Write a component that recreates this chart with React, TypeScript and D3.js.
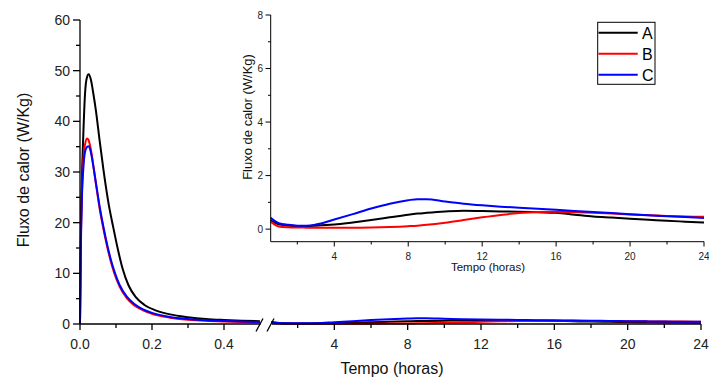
import React from "react";
import * as d3 from "d3";

// ---- Data ----
const seriesNames = ["A", "B", "C"];
const seriesColors = ["#000000", "#ff0000", "#0000ff"];

// early period (hours 0 - 0.5)
const earlyHoursA = [0, 0.001, 0.002, 0.005, 0.009, 0.014, 0.019, 0.024, 0.03, 0.037, 0.044, 0.054, 0.065, 0.08, 0.092, 0.105, 0.118, 0.135, 0.155, 0.18, 0.21, 0.25, 0.3, 0.35, 0.4, 0.45, 0.5];
const earlyA = [0, 8, 16, 28, 37, 45.5, 48.6, 49.3, 48.3, 45.5, 42.2, 36.5, 30.5, 23.5, 19.2, 14.8, 11.0, 7.6, 5.3, 3.7, 2.7, 1.9, 1.35, 1.0, 0.8, 0.65, 0.55];
const earlyHoursBC = [0, 0.001, 0.002, 0.005, 0.01, 0.015, 0.02, 0.023, 0.03, 0.035, 0.045, 0.055, 0.065, 0.075, 0.085, 0.095, 0.11, 0.13, 0.15, 0.175, 0.2, 0.25, 0.3, 0.35, 0.4, 0.45, 0.5];
const earlyB = [0, 7, 14, 25, 33, 35.8, 36.6, 36.4, 34.5, 32.3, 27.3, 22.6, 18.8, 15.4, 12.5, 10.1, 7.4, 5.1, 3.7, 2.7, 2.0, 1.25, 0.85, 0.62, 0.48, 0.38, 0.32];
const earlyC = [0, 6, 13, 24, 31.5, 34.3, 35.0, 35.1, 34.0, 32.0, 27.5, 23.0, 19.2, 15.8, 12.9, 10.5, 7.7, 5.4, 4.0, 2.9, 2.2, 1.4, 1.0, 0.75, 0.6, 0.48, 0.4];

// later period (hours)
const lateHours = [0.56, 1, 1.5, 2, 2.5, 3, 4, 5, 6, 7, 8, 8.5, 9, 10, 11, 12, 13, 14, 15, 16, 17, 18, 19, 20, 21, 22, 23, 24];
const lateA = [0.33, 0.18, 0.13, 0.12, 0.12, 0.13, 0.17, 0.25, 0.34, 0.44, 0.54, 0.58, 0.61, 0.66, 0.69, 0.68, 0.66, 0.65, 0.63, 0.61, 0.54, 0.47, 0.43, 0.39, 0.35, 0.31, 0.28, 0.25];
const lateB = [0.28, 0.1, 0.07, 0.06, 0.055, 0.05, 0.05, 0.05, 0.06, 0.08, 0.11, 0.13, 0.16, 0.24, 0.34, 0.44, 0.53, 0.6, 0.64, 0.65, 0.63, 0.61, 0.58, 0.55, 0.52, 0.49, 0.47, 0.46];
const lateC = [0.42, 0.22, 0.16, 0.13, 0.13, 0.17, 0.36, 0.56, 0.77, 0.95, 1.08, 1.12, 1.12, 1.03, 0.95, 0.89, 0.84, 0.8, 0.76, 0.72, 0.68, 0.64, 0.6, 0.56, 0.52, 0.48, 0.45, 0.42];

const mainYTicks = [0, 10, 20, 30, 40, 50, 60];
const mainYMinor = [5, 15, 25, 35, 45, 55];
const earlyXTicks = [0, 0.2, 0.4];
const earlyXMinor = [0.1, 0.3];
const lateXTicks = [4, 8, 12, 16, 20, 24];
const lateXMinor = [2, 6, 10, 14, 18, 22];
const insetYTicks = [0, 2, 4, 6, 8];
const insetYMinor = [1, 3, 5, 7];

const yTitle = "Fluxo de calor (W/Kg)";
const xTitle = "Tempo (horas)";

const FONT = "'Liberation Sans', Arial, sans-serif";

export default function App() {
  const W = 709, H = 381;
  const y = d3.scaleLinear().domain([0, 60]).range([324, 20]);
  const x1 = d3.scaleLinear().domain([0, 0.5]).range([80, 260]);
  const x2 = d3.scaleLinear().domain([0.6, 24]).range([272, 701]);
  const iy = d3.scaleLinear().domain([-0.47, 8]).range([241.7, 15]);
  const ix = d3.scaleLinear().domain([0.56, 24]).range([270.7, 704]);

  const earlySeries = [
    { h: earlyHoursA, v: earlyA },
    { h: earlyHoursBC, v: earlyB },
    { h: earlyHoursBC, v: earlyC },
  ];
  const lateSeries = [lateA, lateB, lateC];

  const lineGen = (xs: d3.ScaleLinear<number, number>, ys: d3.ScaleLinear<number, number>) =>
    d3.line<[number, number]>().x((d) => xs(d[0])).y((d) => ys(d[1])).curve(d3.curveMonotoneX);

  const order = [0, 1, 2];
  const x0 = 80, yBase = 324;

  return (
    <svg width={W} height={H} style={{ position: "absolute", left: 0, top: 0, background: "#fff" }} fontFamily={FONT}>
      <rect width={W} height={H} fill="#fff" />
      <defs>
        <clipPath id="c1"><rect x={79} y={0} width={182} height={330} /></clipPath>
        <clipPath id="c2"><rect x={271} y={0} width={432} height={330} /></clipPath>
      </defs>

      {/* main curves */}
      <g clipPath="url(#c1)">
        {order.map((i) => (
          <path key={"e" + i}
            d={lineGen(x1, y)(earlySeries[i].h.map((h, k) => [h, earlySeries[i].v[k]] as [number, number])) || ""}
            fill="none" stroke={seriesColors[i]} strokeWidth={2} />
        ))}
      </g>
      <g clipPath="url(#c2)">
        {order.map((i) => (
          <path key={"l" + i}
            d={lineGen(x2, y)(lateHours.map((h, k) => [h, lateSeries[i][k]] as [number, number])) || ""}
            fill="none" stroke={seriesColors[i]} strokeWidth={2} />
        ))}
      </g>

      {/* main axes */}
      <g stroke="#000" strokeWidth={1.3} fill="none">
        <line x1={x0} x2={x0} y1={20} y2={yBase} />
        <line x1={x0} x2={260.7} y1={yBase} y2={yBase} />
        <line x1={272} x2={701} y1={yBase} y2={yBase} />
        {mainYTicks.map((t) => <line key={"my" + t} x1={x0 - 7} x2={x0} y1={y(t)} y2={y(t)} />)}
        {mainYMinor.map((t) => <line key={"mym" + t} x1={x0 - 4} x2={x0} y1={y(t)} y2={y(t)} />)}
        {earlyXTicks.map((t) => <line key={"ex" + t} x1={x1(t)} x2={x1(t)} y1={yBase} y2={yBase + 6} />)}
        {earlyXMinor.map((t) => <line key={"exm" + t} x1={x1(t)} x2={x1(t)} y1={yBase} y2={yBase + 4} />)}
        {lateXTicks.map((t) => <line key={"lx" + t} x1={x2(t)} x2={x2(t)} y1={yBase} y2={yBase + 6} />)}
        {lateXMinor.map((t) => <line key={"lxm" + t} x1={x2(t)} x2={x2(t)} y1={yBase} y2={yBase + 4} />)}
        {/* break marks */}
        <line x1={256} y1={331.5} x2={263} y2={318.5} />
        <line x1={267} y1={331.5} x2={274} y2={318.5} />
      </g>
      <g fontSize={14} fill="#222">
        {mainYTicks.map((t) => (
          <text key={"myl" + t} x={x0 - 10} y={y(t) + 5} textAnchor="end">{t}</text>
        ))}
        {earlyXTicks.map((t) => (
          <text key={"exl" + t} x={x1(t)} y={349} textAnchor="middle">{d3.format(".1f")(t)}</text>
        ))}
        {lateXTicks.map((t) => (
          <text key={"lxl" + t} x={x2(t)} y={349} textAnchor="middle">{t}</text>
        ))}
      </g>
      <text x={392} y={374} fontSize={16} textAnchor="middle" fill="#111">{xTitle}</text>
      <text transform="translate(29,170) rotate(-90)" fontSize={16} textAnchor="middle" fill="#111">{yTitle}</text>

      {/* inset */}
      <g>
        {order.map((i) => (
          <path key={"in" + i}
            d={lineGen(ix, iy)(lateHours.map((h, k) => [h, lateSeries[i][k]] as [number, number])) || ""}
            fill="none" stroke={seriesColors[i]} strokeWidth={2} />
        ))}
      </g>
      <g stroke="#000" strokeWidth={1} fill="none">
        <line x1={270.7} x2={270.7} y1={15} y2={241.7} />
        <line x1={270.7} x2={704} y1={241.7} y2={241.7} />
        {insetYTicks.map((t) => <line key={"iy" + t} x1={265.5} x2={270.7} y1={iy(t)} y2={iy(t)} />)}
        {insetYMinor.map((t) => <line key={"iym" + t} x1={268} x2={270.7} y1={iy(t)} y2={iy(t)} />)}
        {lateXTicks.map((t) => <line key={"ix" + t} x1={ix(t)} x2={ix(t)} y1={241.7} y2={246.5} />)}
        {lateXMinor.map((t) => <line key={"ixm" + t} x1={ix(t)} x2={ix(t)} y1={241.7} y2={244.5} />)}
      </g>
      <g fontSize={10} fill="#222">
        {insetYTicks.map((t) => (
          <text key={"iyl" + t} x={263} y={iy(t) + 3.5} textAnchor="end">{t}</text>
        ))}
        {lateXTicks.map((t) => (
          <text key={"ixl" + t} x={ix(t)} y={260} textAnchor="middle">{t}</text>
        ))}
      </g>
      <text x={488} y={271} fontSize={11.5} textAnchor="middle" fill="#111">{xTitle}</text>
      <text transform="translate(252,117) rotate(-90)" fontSize={13} textAnchor="middle" fill="#111">{yTitle}</text>

      {/* legend */}
      <rect x={597.7} y={22.3} width={57.3} height={62} fill="#fff" stroke="#000" strokeWidth={1} />
      {seriesNames.map((n, i) => (
        <g key={n}>
          <line x1={598.5} x2={637.7} y1={32.7 + i * 21} y2={32.7 + i * 21} stroke={seriesColors[i]} strokeWidth={2} />
          <text x={642} y={38.5 + i * 21} fontSize={16} fill="#000">{n}</text>
        </g>
      ))}
    </svg>
  );
}
